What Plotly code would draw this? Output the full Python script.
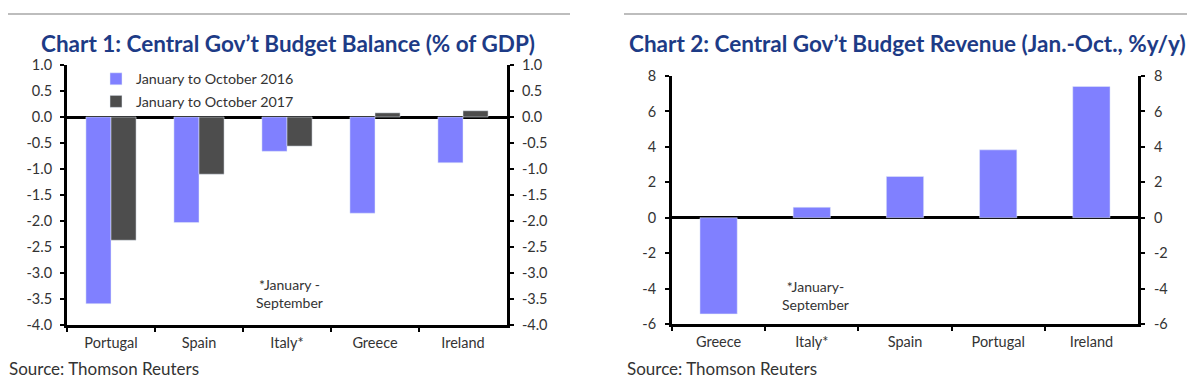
import plotly.graph_objects as go

# Chart 1 data
c1_categories = ["Portugal", "Spain", "Italy*", "Greece", "Ireland"]
c1_2016 = [-3.59, -2.03, -0.66, -1.85, -0.88]
c1_2017 = [-2.37, -1.10, -0.56, 0.08, 0.12]
c1_names = ["January to October 2016", "January to October 2017"]
c1_ticks = [1.0, 0.5, 0.0, -0.5, -1.0, -1.5, -2.0, -2.5, -3.0, -3.5, -4.0]
c1_ticktext = ["1.0", "0.5", "0.0", "-0.5", "-1.0", "-1.5", "-2.0", "-2.5", "-3.0", "-3.5", "-4.0"]

# Chart 2 data
c2_categories = ["Greece", "Italy*", "Spain", "Portugal", "Ireland"]
c2_values = [-5.43, 0.59, 2.33, 3.83, 7.41]
c2_ticks = [8, 6, 4, 2, 0, -2, -4, -6]
c2_ticktext = ["8", "6", "4", "2", "0", "-2", "-4", "-6"]

W, H = 1200, 383
FONT = "Lato"
TITLE_COLOR = "#1d3b86"
TXT = "#333333"
BLUE = "#8080ff"
DARK = "#4d4d4d"

def px_x(p):
    return p / W

def px_y(p):
    return 1 - p / H

fig = go.Figure()

fig.add_trace(go.Bar(x=c1_categories, y=c1_2016, name=c1_names[0], marker_color=BLUE,
                     width=0.285, offset=-0.285, legendgroup="a", xaxis="x", yaxis="y"))
fig.add_trace(go.Bar(x=c1_categories, y=c1_2017, name=c1_names[1], marker_color=DARK,
                     width=0.285, offset=0.0, legendgroup="b", xaxis="x", yaxis="y"))
fig.add_trace(go.Scatter(x=[c1_categories[0]], y=[0], mode="markers", marker=dict(opacity=0),
                         showlegend=False, hoverinfo="skip", xaxis="x", yaxis="y3"))

fig.add_trace(go.Bar(x=c2_categories, y=c2_values, marker_color=BLUE, showlegend=False,
                     width=0.40, offset=-0.20, xaxis="x2", yaxis="y2"))
fig.add_trace(go.Scatter(x=[c2_categories[0]], y=[0], mode="markers", marker=dict(opacity=0),
                         showlegend=False, hoverinfo="skip", xaxis="x2", yaxis="y4"))

axis_common = dict(showline=True, linecolor="black", linewidth=3, ticks="outside",
                   ticklen=4, tickwidth=2, tickcolor="black", showgrid=False, automargin=False)
yfont = dict(family=FONT, size=14.5, color=TXT)
xfont = dict(family=FONT, size=14.5, color=TXT)

y1_dom = [px_y(325), px_y(65)]
y2_dom = [px_y(324), px_y(76)]

y1_common = dict(range=[-4, 1], tickmode="array", tickvals=c1_ticks, ticktext=c1_ticktext,
                 tickfont=yfont, ticklabelstandoff=5, **axis_common)
y2_common = dict(range=[-6, 8], tickmode="array", tickvals=c2_ticks, ticktext=c2_ticktext,
                 tickfont=yfont, ticklabelstandoff=6, **axis_common)

fig.update_layout(
    width=W, height=H, margin=dict(l=0, r=0, t=0, b=0, autoexpand=False),
    paper_bgcolor="white", plot_bgcolor="white",
    barmode="overlay",
    font=dict(family=FONT, color=TXT),
    xaxis=dict(domain=[px_x(67), px_x(507)], anchor="y", type="category",
               tickson="boundaries", tickfont=xfont, ticklabelstandoff=3, **axis_common),
    yaxis=dict(domain=y1_dom, anchor="x", zeroline=True, zerolinecolor="black",
               zerolinewidth=2.5, **y1_common),
    yaxis3=dict(overlaying="y", side="right", anchor="x", zeroline=False, **y1_common),
    xaxis2=dict(domain=[px_x(672), px_x(1138)], anchor="y2", type="category",
                tickson="boundaries", tickfont=xfont, ticklabelstandoff=3, **axis_common),
    yaxis2=dict(domain=y2_dom, anchor="x2", zeroline=True, zerolinecolor="black",
                zerolinewidth=2.5, **y2_common),
    yaxis4=dict(overlaying="y2", side="right", anchor="x2", zeroline=False, **y2_common),
    legend=dict(x=px_x(96), y=px_y(63), xanchor="left", yanchor="top",
                bgcolor="rgba(0,0,0,0)", font=dict(family=FONT, size=14.3, color=TXT),
                itemwidth=30, traceorder="grouped", tracegroupgap=1),
    showlegend=True,
)

# Top grey rules
fig.add_shape(type="line", xref="paper", yref="paper", x0=px_x(8), x1=px_x(570),
              y0=px_y(14), y1=px_y(14), line=dict(color="#bdbdbd", width=2))
fig.add_shape(type="line", xref="paper", yref="paper", x0=px_x(624), x1=px_x(1187),
              y0=px_y(14), y1=px_y(14), line=dict(color="#bdbdbd", width=2))

annots = [
    dict(text="<b>Chart 1: Central Gov’t Budget Balance (% of GDP)</b>", x=px_x(288), y=px_y(43),
         font=dict(family=FONT, size=22.5, color=TITLE_COLOR), xanchor="center"),
    dict(text="<b>Chart 2: Central Gov’t Budget Revenue (Jan.-Oct., %y/y)</b>", x=px_x(907), y=px_y(43),
         font=dict(family=FONT, size=22.5, color=TITLE_COLOR), xanchor="center"),
    dict(text="*January -<br>September", x=px_x(289), y=px_y(293),
         font=dict(family=FONT, size=14, color=TXT), xanchor="center"),
    dict(text="*January-<br>September", x=px_x(815), y=px_y(295),
         font=dict(family=FONT, size=14, color=TXT), xanchor="center"),
    dict(text="Source: Thomson Reuters", x=px_x(7), y=px_y(368),
         font=dict(family=FONT, size=17, color=TXT), xanchor="left"),
    dict(text="Source: Thomson Reuters", x=px_x(625), y=px_y(368),
         font=dict(family=FONT, size=17, color=TXT), xanchor="left"),
]
for a in annots:
    fig.add_annotation(xref="paper", yref="paper", showarrow=False, yanchor="middle", **a)

fig.write_html("out.html", config={"displayModeBar": False},
               post_script="document.body.style.margin='0px';")
